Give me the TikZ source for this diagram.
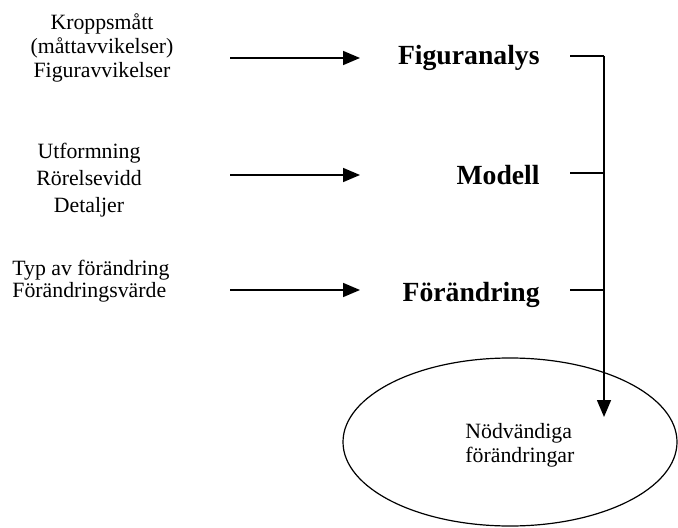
\documentclass[tikz,border=0pt]{standalone}
\usepackage{fontspec}
\setmainfont{Liberation Serif}
\usetikzlibrary{arrows.meta,positioning,shapes.geometric}

\begin{document}
\begin{tikzpicture}[x=0.5pt, y=-0.5pt,
    src/.style={inner sep=0pt, font=\fontsize{10.9}{12}\selectfont},
    stage/.style={inner sep=0pt, anchor=base east, font=\fontsize{13.85}{15}\selectfont\bfseries},
    arr/.style={line width=0.8pt, -{Triangle[length=8.5pt, width=7pt]}},
    bus/.style={line width=0.8pt},
  ]
  \useasboundingbox (0,0) rectangle (678,528);

  % inputs on the left
  \node[src, align=center] (kropp) at (102,48) {Kroppsmått\\(måttavvikelser)\\Figuravvikelser};
  \node[src, align=center, font=\fontsize{10.9}{13.5}\selectfont] (utform) at (89,180) {Utformning\\Rörelsevidd\\Detaljer};
  \node[src, align=left, anchor=west, font=\fontsize{10.9}{11}\selectfont] (typ) at (12,281) {Typ av förändring\\Förändringsvärde};

  % the three steps
  \node[stage] (analys) at (540,65) {Figuranalys};
  \node[stage] (modell) at (540,185) {Modell};
  \node[stage] (andring) at (540,302) {Förändring};

  % result
  \node[ellipse, draw, line width=0.6pt, inner sep=0pt,
        minimum width=167pt, minimum height=84pt] (behov) at (510,442) {};
  \node[src, align=left, anchor=west] (behovtext) at (465,445) {Nödvändiga\\förändringar};

  \coordinate (in1) at (230,58);  \coordinate (to1) at (360,58);
  \coordinate (in2) at (230,175); \coordinate (to2) at (360,175);
  \coordinate (in3) at (230,290); \coordinate (to3) at (360,290);
  \draw[arr] (in1) -- (to1);
  \draw[arr] (in2) -- (to2);
  \draw[arr] (in3) -- (to3);

  \coordinate (ut1) at (570,56);  \coordinate (b1) at (604,56);
  \coordinate (ut2) at (570,173); \coordinate (b2) at (604,173);
  \coordinate (ut3) at (570,290); \coordinate (b3) at (604,290);
  \coordinate (tip) at (604,417);
  \draw[bus] (ut1) -- (b1);
  \draw[bus] (ut2) -- (b2);
  \draw[bus] (ut3) -- (b3);
  \draw[arr] (b1) -- (tip);
\end{tikzpicture}
\end{document}
